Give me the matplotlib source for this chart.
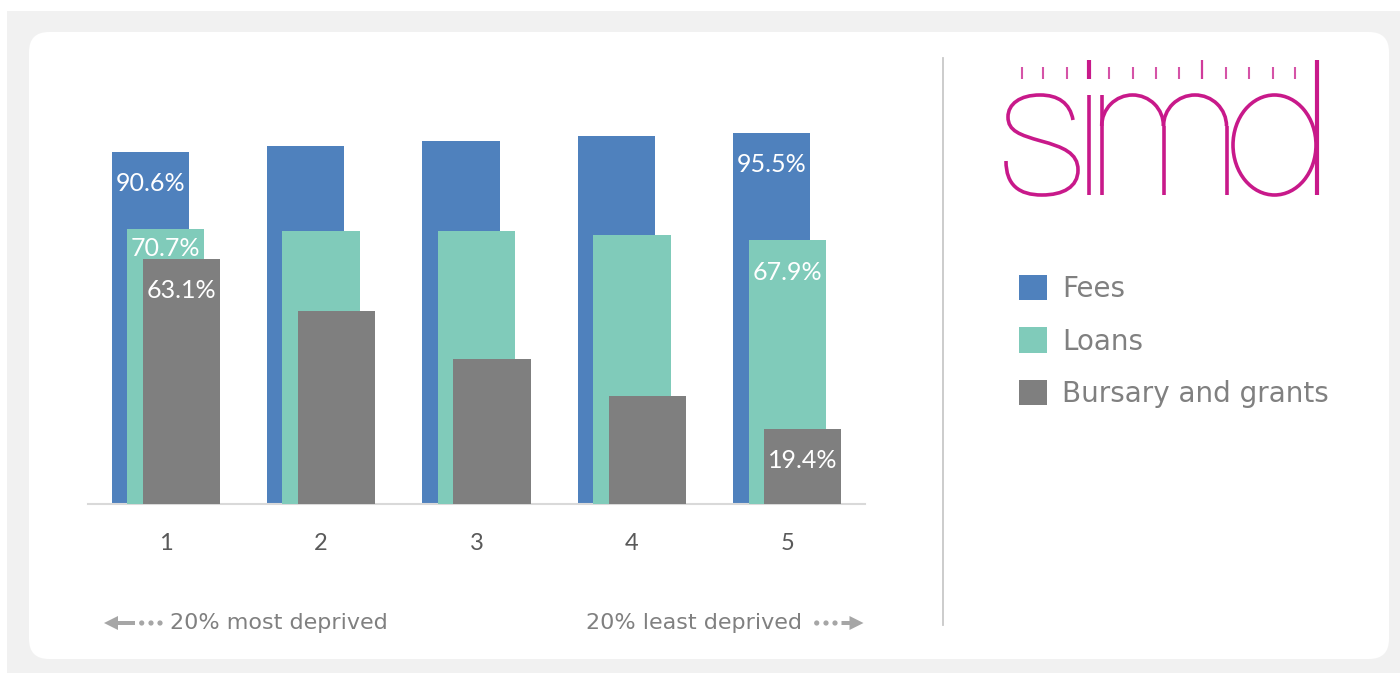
import matplotlib
matplotlib.use("Agg")
import matplotlib.pyplot as plt
from matplotlib.patches import FancyBboxPatch, Rectangle, Ellipse, Polygon, Circle, PathPatch, Arc
from matplotlib.path import Path
import numpy as np

# ---- data ----
groups = ["1", "2", "3", "4", "5"]
series_names = ["Fees", "Loans", "Bursary and grants"]
fees = [90.6, 92.1, 93.4, 94.7, 95.5]
loans = [70.7, 70.3, 70.3, 69.2, 67.9]
bursary = [63.1, 49.7, 37.3, 27.8, 19.4]
labelled_groups = [0, 4]
left_note = "20% most deprived"
right_note = "20% least deprived"

colors = ["#4f81bd", "#80cbba", "#7f7f7f"]
W, H = 1400, 673

fig = plt.figure(figsize=(W / 100, H / 100), dpi=100, facecolor="white")

# background / decoration axes in pixel coords
bg = fig.add_axes([0, 0, 1, 1], zorder=0)
bg.set_xlim(0, W)
bg.set_ylim(H, 0)
bg.axis("off")
bg.add_patch(Rectangle((7, 11), W - 7, H - 11, facecolor="#f1f1f1", edgecolor="none"))
bg.add_patch(FancyBboxPatch((29 + 20, 32 + 20), 1360 - 40, 627 - 40,
                            boxstyle="round,pad=20", facecolor="white", edgecolor="none"))
# separator
bg.plot([943, 943], [58, 625], color="#c8c8c8", lw=1.3)

# ---- SIMD logo ----
pink = "#c8198a"
lw = 2.6
short_ticks = [1021.7, 1043.3, 1066.7, 1109.3, 1133.3, 1155.7, 1179, 1226, 1249.3, 1272.7, 1295.3]
for tx in short_ticks:
    bg.plot([tx, tx], [66.5, 79], color=pink, lw=1.5, alpha=0.75, solid_capstyle="butt")
bg.plot([1088.7, 1088.7], [60, 79], color=pink, lw=3.0, solid_capstyle="butt")
bg.plot([1202, 1202], [60, 79], color=pink, lw=1.6, alpha=0.85, solid_capstyle="butt")
# s
verts = [(1073, 120),
         (1070, 103), (1058, 95), (1040, 95),
         (1020, 95), (1008, 104), (1008, 117),
         (1008, 131), (1020, 135), (1041, 141),
         (1063, 147), (1078, 153), (1078, 170),
         (1078, 187), (1063, 195), (1042, 195),
         (1019, 195), (1006, 185), (1006, 161)]
codes = [Path.MOVETO] + [Path.CURVE4] * 18
bg.add_patch(PathPatch(Path(verts, codes), facecolor="none", edgecolor=pink, lw=lw, capstyle="butt"))
# i
bg.plot([1088.7, 1088.7], [95, 195], color=pink, lw=lw, solid_capstyle="butt")
# m
bg.plot([1101.7, 1101.7], [95, 195], color=pink, lw=lw, solid_capstyle="butt")
bg.plot([1163.5, 1163.5], [126, 195], color=pink, lw=lw, solid_capstyle="butt")
bg.plot([1226.5, 1226.5], [126, 195], color=pink, lw=lw, solid_capstyle="butt")
bg.add_patch(Arc((1132.6, 126), 61.8, 62, theta1=180, theta2=360, color=pink, lw=lw))
bg.add_patch(Arc((1195.0, 126), 63.0, 62, theta1=180, theta2=360, color=pink, lw=lw))
# d
bg.add_patch(Ellipse((1274.5, 145), 83, 100, facecolor="none", edgecolor=pink, lw=lw))
bg.plot([1316.5, 1316.5], [60, 195], color=pink, lw=3.0, solid_capstyle="butt")

# ---- bottom notes with arrows ----
note_color = "#808080"
arrow_color = "#a6a6a6"
gothic = ["DejaVu Sans"]
bg.text(170, 623, left_note, fontsize=16, color=note_color, ha="left", va="center", family=gothic)
bg.text(802, 623, right_note, fontsize=16, color=note_color, ha="right", va="center", family=gothic)
# left arrow
bg.add_patch(Polygon([(104, 623), (118, 616), (118, 621), (135, 621), (135, 625), (118, 625), (118, 630)],
                     closed=True, facecolor=arrow_color, edgecolor="none"))
for dx in [141.7, 151, 160]:
    bg.add_patch(Circle((dx, 623), 2.6, facecolor=arrow_color, edgecolor="none"))
# right arrow
bg.add_patch(Polygon([(863.5, 623), (849.5, 616), (849.5, 621), (841.5, 621), (841.5, 625), (849.5, 625), (849.5, 630)],
                     closed=True, facecolor=arrow_color, edgecolor="none"))
for dx in [816.7, 826, 835]:
    bg.add_patch(Circle((dx, 623), 2.6, facecolor=arrow_color, edgecolor="none"))

# ---- main chart ----
ax = fig.add_axes([88 / W, 1 - 504 / H, 777 / W, 388.5 / H], zorder=2)
ax.set_facecolor("none")
x = np.arange(1, len(groups) + 1)
bw = 0.497
off = 0.1
series = [fees, loans, bursary]
for i, (vals, name, c) in enumerate(zip(series, series_names, colors)):
    ax.bar(x + (i - 1) * off, vals, width=bw, color=c, label=name, zorder=2 + i)

ax.set_xlim(0.5, 5.5)
ax.set_ylim(0, 100)
ax.set_yticks([])
for s in ["top", "left", "right"]:
    ax.spines[s].set_visible(False)
ax.spines["bottom"].set_color("#d9d9d9")
ax.spines["bottom"].set_linewidth(1.5)
ax.set_xticks(x)
ax.set_xticklabels(groups, fontsize=17, color="#595959", family=["Lato", "DejaVu Sans"])
ax.tick_params(axis="x", length=0, pad=21)

# data labels
for i, vals in enumerate(series):
    for g in labelled_groups:
        v = vals[g]
        dy = -13.5 if (i == 1 and g == 0) else -23
        ax.annotate(f"{v:.1f}%", xy=(x[g] + (i - 1) * off, v), xytext=(0, dy),
                    textcoords="offset points", ha="center", va="center",
                    fontsize=18, color="white", family=["Lato", "DejaVu Sans"], zorder=10)

leg = ax.legend(loc="upper left", bbox_to_anchor=(1019 / W, 1 - 275 / H),
                bbox_transform=fig.transFigure, frameon=False,
                handlelength=1.01, handleheight=1.01, handletextpad=0.53,
                labelspacing=0.88, borderpad=0, borderaxespad=0,
                prop={"family": gothic, "size": 20})
for t in leg.get_texts():
    t.set_color(note_color)

fig.savefig("out.png", dpi=100, facecolor=fig.get_facecolor())
